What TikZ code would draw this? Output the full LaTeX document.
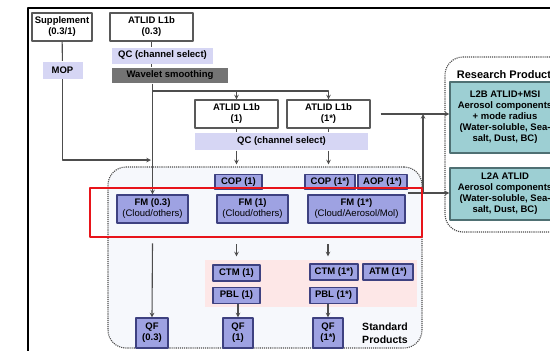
\documentclass[tikz,border=0pt]{standalone}
\usepackage{fontspec}
\setmainfont{Liberation Sans}
\definecolor{lav}{HTML}{9EA2E2}
\definecolor{lavline}{HTML}{3E4180}
\definecolor{qcfill}{HTML}{D6D6F4}
\definecolor{wavfill}{HTML}{747474}
\definecolor{teal}{HTML}{9DCFD3}
\definecolor{tealline}{HTML}{4F7073}
\definecolor{pinkfill}{HTML}{FDE7E7}
\definecolor{stdfill}{HTML}{F6F8FC}
\definecolor{wire}{HTML}{4D4D4D}
\definecolor{hlred}{HTML}{E8141A}
\begin{document}
\begin{tikzpicture}[x=1pt, y=-1pt, line join=round, >=stealth, line width=1.1,
	font=\fontsize{9.5}{11}\selectfont\bfseries,
	wbox/.style={draw=black!65, fill=white, line width=1.1, minimum width=#1, minimum height=28, inner sep=0, align=center},
	qcbox/.style={fill=qcfill, minimum width=#1, minimum height=16, inner sep=0},
	lbox/.style={draw=lavline, fill=lav, line width=1.1, minimum width=#1, minimum height=15, inner sep=0, align=center},
	tbox/.style={draw=tealline, fill=teal, line width=1.1, minimum width=110, inner sep=0, align=center},
	region/.style={draw=black!70, densely dotted, line width=1.1, rounded corners=18, inner sep=0},
	wire/.style={draw=wire, line width=1.1}]
	\useasboundingbox (0,0) rectangle (550,351);
	\clip (0,0) rectangle (550,351);
	% frame
	\draw[line width=1.6] (28,360) -- (28,8) -- (560,8);
	% regions
	\node[region, fill=stdfill, minimum width=314, minimum height=181] (std) at (265,257.5) {};
	\node[fill=pinkfill, minimum width=212, minimum height=47, inner sep=0] (pink) at (311,283.5) {};
	\node[region, minimum width=125, minimum height=175] (res) at (507.5,144.5) {};
	\node[anchor=west, font=\fontsize{11}{13}\selectfont\bfseries] (restitle) at (453,75) {Research Products};
	% top chain
	\node[wbox=60] (supp) at (62,27) {Supplement\\(0.3/1)};
	\node[wbox=83] (l1b03) at (151.5,27) {ATLID L1b\\(0.3)};
	\node[qcbox=101] (qc03) at (162.5,55.5) {QC (channel select)};
	\node[fill=wavfill, text=black, minimum width=116, minimum height=15, inner sep=0] (wav) at (170,75.5) {Wavelet smoothing};
	\node[qcbox=40, minimum height=17] (mop) at (62.5,70) {MOP};
	\node[wbox=83] (l1b1) at (236.5,114) {ATLID L1b\\(1)};
	\node[wbox=83] (l1b1s) at (328.5,114) {ATLID L1b\\(1*)};
	\node[qcbox=173, minimum height=17] (qc1) at (281.5,141.5) {QC (channel select)};
	% standard products
	\node[lbox=47] (cop1) at (238.5,182) {COP (1)};
	\node[lbox=50] (cop1s) at (330,182) {COP (1*)};
	\node[lbox=49] (aop1s) at (382.5,182) {AOP (1*)};
	\node[lbox=71, minimum height=28] (fm03) at (152.5,209) {FM (0.3)\\\mdseries(Cloud/others)};
	\node[lbox=71, minimum height=28] (fm1) at (252.5,209) {FM (1)\\\mdseries(Cloud/others)};
	\node[lbox=97, minimum height=28] (fm1s) at (356.5,209) {FM (1*)\\\mdseries(Cloud/Aerosol/Mol)};
	\node[lbox=47, minimum height=16] (ctm1) at (236.5,273) {CTM (1)};
	\node[lbox=48, minimum height=16] (ctm1s) at (334,272) {CTM (1*)};
	\node[lbox=50, minimum height=16] (atm1s) at (388,272) {ATM (1*)};
	\node[lbox=47, minimum height=16] (pbl1) at (236.5,295.5) {PBL (1)};
	\node[lbox=47, minimum height=16] (pbl1s) at (333.5,295.5) {PBL (1*)};
	\node[lbox=32, minimum height=30] (qf03) at (152,333) {QF\\(0.3)};
	\node[lbox=30, minimum height=30] (qf1) at (238,333) {QF\\(1)};
	\node[lbox=30, minimum height=30] (qf1s) at (328,333) {QF\\(1*)};
	\node[align=center, font=\fontsize{10.5}{12.5}\selectfont\bfseries] (stdtxt) at (385,333) {Standard\\Products};
	% research products
	\node[tbox, minimum height=71] (l2b) at (505,117.5) {L2B ATLID+MSI\\Aerosol components\\+ mode radius\\(Water-soluble, Sea-\\salt, Dust, BC)};
	\node[tbox, minimum height=52] (l2a) at (505,194) {L2A ATLID\\Aerosol components\\(Water-soluble, Sea-\\salt, Dust, BC)};
	% connectors
	\coordinate (br) at (152,91);
	\coordinate (join03) at (151,160);
	\coordinate (exit) at (408,193);
	\coordinate (tap) at (423,193);
	\draw[wire] (supp) -- (mop);
	\draw[wire,->] (mop) |- (join03);
	\draw[wire] (l1b03.south) -- (l1b03.south |- qc03.north);
	\draw[wire] (l1b03.south |- qc03.south) -- (l1b03.south |- wav.north);
	\draw[wire,->] (fm03 |- wav.south) -- (fm03.north);
	\draw[wire,->] (br) -| (l1b1.north);
	\draw[wire,->] (br) -| (l1b1s.north);
	\draw[wire] (l1b1.south) -- (l1b1 |- qc1.north);
	\draw[wire] (l1b1s.south) -- (l1b1s |- qc1.north);
	\draw[wire,->] (l1b1 |- qc1.south) -- ([yshift=2pt]l1b1 |- std.north);
	\draw[wire,->] (l1b1s |- qc1.south) -- ([yshift=2pt]l1b1s |- std.north);
	\draw[wire,->, shorten <=10pt] (l1b1s.east) -- (l1b1s.east -| l2b.west);
	\draw[wire,->] (exit) -- (exit -| l2a.west);
	\draw[wire,->] (tap) -- (tap |- l1b1s.east);
	% highlight
	\node[draw=hlred, line width=2.6, minimum width=332, minimum height=49, inner sep=0] (hl) at (256,212.5) {};
	\draw[wire,->] ([yshift=-5pt]fm03 |- hl.south) -- (qf03.north);
	\draw[wire,->] ([yshift=-6pt]ctm1 |- hl.south) -- ([yshift=3pt]ctm1 |- pink.north);
	\draw[wire,->] ([yshift=-6pt]qf1s |- hl.south) -- ([yshift=3pt]qf1s |- pink.north);
	\draw[wire,->] (qf1 |- pbl1.south) -- (qf1.north);
	\draw[wire,->] (qf1s |- pbl1s.south) -- (qf1s.north);
\end{tikzpicture}
\end{document}
